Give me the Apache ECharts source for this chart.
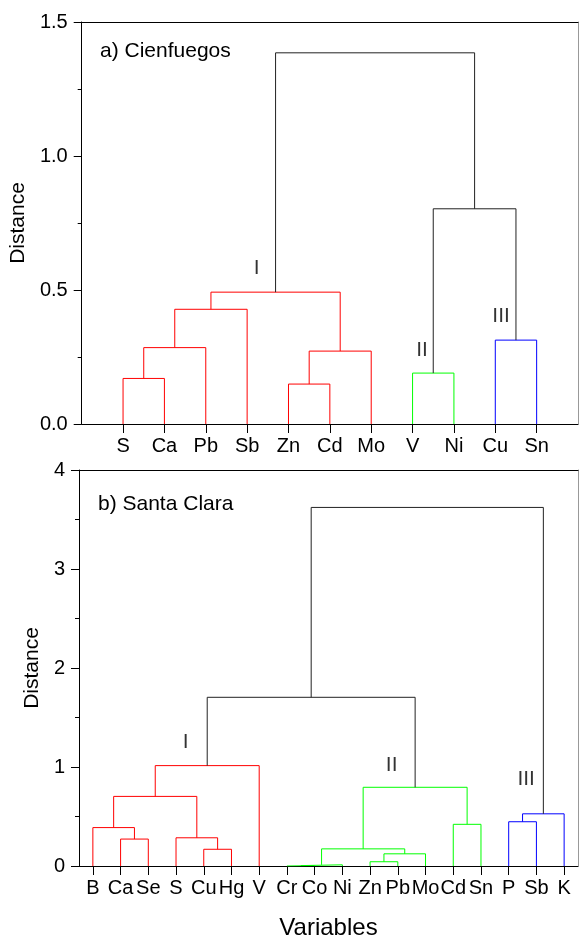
<!DOCTYPE html>
<html>
<head>
<meta charset="utf-8">
<script src="https://cdn.jsdelivr.net/npm/echarts@6/dist/echarts.min.js"></script>
<style>
  html, body { margin: 0; padding: 0; background: #fff; }
  #chart { width: 579px; height: 941px; }
</style>
</head>
<body>
<div id="chart"></div>
<script>
// a) Cienfuegos
const leavesA = ['S', 'Ca', 'Pb', 'Sb', 'Zn', 'Cd', 'Mo', 'V', 'Ni', 'Cu', 'Sn'];
// merge k joins node pair; ids >= leaves.length refer to earlier merges
const pairsA = [[0, 1], [11, 2], [12, 3], [4, 5], [14, 6], [13, 15], [7, 8], [9, 10], [17, 18], [16, 19]];
const heightsA = [0.17, 0.285, 0.428, 0.149, 0.272, 0.492, 0.19, 0.313, 0.803, 1.385];
const groupsA = ['I', 'I', 'I', 'I', 'I', 'I', 'II', 'III', 'top', 'top'];
const clusterLabelsA = [['I', 3.23, 0.583], ['II', 7.23, 0.274], ['III', 9.14, 0.403]];

// b) Santa Clara
const leavesB = ['B', 'Ca', 'Se', 'S', 'Cu', 'Hg', 'V', 'Cr', 'Co', 'Ni', 'Zn', 'Pb', 'Mo', 'Cd', 'Sn', 'P', 'Sb', 'K'];
const pairsB = [[1, 2], [0, 18], [4, 5], [3, 20], [19, 21], [22, 6], [7, 8], [24, 9], [10, 11], [26, 12],
  [25, 27], [13, 14], [28, 29], [23, 30], [15, 16], [32, 17], [31, 33]];
const heightsB = [0.272, 0.388, 0.169, 0.285, 0.703, 1.014, 0.004, 0.012, 0.043, 0.123,
  0.173, 0.421, 0.795, 1.704, 0.447, 0.527, 3.622];
const groupsB = ['I', 'I', 'I', 'I', 'I', 'I', 'II', 'II', 'II', 'II', 'II', 'II', 'II', 'top', 'III', 'III', 'top'];
const clusterLabelsB = [['I', 3.35, 1.247], ['II', 10.78, 1.014], ['III', 15.63, 0.872]];

const COLOURS = { I: '#ff0000', II: '#00ff00', III: '#0000ff', top: '#222222' };
const FONT = '"Liberation Sans", Arial, sans-serif';

function dendroSeries(leaves, pairs, heights, groups, axisIdx) {
  const xs = leaves.map((_, i) => i);
  const ys = leaves.map(() => 0);
  return pairs.map(([a, b], k) => {
    const h = heights[k];
    const data = [[xs[a], ys[a]], [xs[a], h], [xs[b], h], [xs[b], ys[b]]];
    xs.push((xs[a] + xs[b]) / 2);
    ys.push(h);
    return {
      type: 'line',
      xAxisIndex: axisIdx,
      yAxisIndex: axisIdx,
      data,
      symbol: 'none',
      silent: true,
      animation: false,
      lineStyle: { color: COLOURS[groups[k]], width: 1 }
    };
  });
}

function labelSeries(labels, axisIdx) {
  return {
    type: 'scatter',
    xAxisIndex: axisIdx,
    yAxisIndex: axisIdx,
    symbolSize: 0,
    silent: true,
    animation: false,
    data: labels.map(([name, x, y]) => ({ name, value: [x, y] })),
    label: {
      show: true,
      position: 'inside',
      formatter: (p) => p.name,
      color: '#000',
      fontSize: 21,
      fontFamily: FONT
    }
  };
}

function bottomAxis(leaves, gridIndex, min, max, nameText) {
  const idx = leaves.map((_, i) => i);
  return {
    type: 'value',
    gridIndex,
    min,
    max,
    position: 'bottom',
    splitLine: { show: false },
    axisLine: { onZero: false, lineStyle: { color: '#000', width: 1 } },
    axisTick: { customValues: idx, length: 9, lineStyle: { color: '#000' } },
    axisLabel: {
      customValues: idx,
      formatter: (v) => leaves[Math.round(v)],
      margin: 12,
      color: '#000',
      fontSize: 20,
      fontFamily: FONT
    },
    name: nameText,
    nameLocation: 'middle',
    nameGap: 50,
    nameTextStyle: { color: '#000', fontSize: 24, fontFamily: FONT }
  };
}

function frameX(gridIndex, min, max) {
  return {
    type: 'value', gridIndex, min, max, position: 'top',
    axisLine: { onZero: false, lineStyle: { color: '#000', width: 1 } },
    axisTick: { show: false }, axisLabel: { show: false }, splitLine: { show: false }
  };
}

function leftAxis(gridIndex, max, interval, digits, nameGap) {
  return {
    type: 'value',
    gridIndex,
    min: 0,
    max,
    interval,
    position: 'left',
    splitLine: { show: false },
    axisLine: { onZero: false, lineStyle: { color: '#000', width: 1 } },
    axisTick: { length: 8, lineStyle: { color: '#000' } },
    minorTick: { show: true, splitNumber: 2, length: 4, lineStyle: { color: '#000' } },
    axisLabel: {
      formatter: (v) => v.toFixed(digits),
      margin: 14,
      color: '#000',
      fontSize: 20,
      fontFamily: FONT
    },
    name: 'Distance',
    nameLocation: 'middle',
    nameGap,
    nameTextStyle: { color: '#000', fontSize: 21, fontFamily: FONT }
  };
}

function frameY(gridIndex, max) {
  return {
    type: 'value', gridIndex, min: 0, max, position: 'right',
    axisLine: { onZero: false, lineStyle: { color: '#999', width: 1 } },
    axisTick: { show: false }, axisLabel: { show: false }, splitLine: { show: false }
  };
}

const chart = echarts.init(document.getElementById('chart'), null, { renderer: 'canvas' });

chart.setOption({
  animation: false,
  backgroundColor: '#fff',
  textStyle: { fontFamily: FONT },
  title: [
    { text: 'a) Cienfuegos', left: 100, top: 41, padding: 0,
      textStyle: { fontSize: 21, fontWeight: 'normal', color: '#000', fontFamily: FONT } },
    { text: 'b) Santa Clara', left: 98, top: 494, padding: 0,
      textStyle: { fontSize: 21, fontWeight: 'normal', color: '#000', fontFamily: FONT } }
  ],
  grid: [
    { left: 79, top: 22, width: 499, height: 402 },
    { left: 79, top: 470, width: 499, height: 403 }
  ],
  xAxis: [
    bottomAxis(leavesA, 0, -1, 11, ''),
    bottomAxis(leavesB, 1, -0.5, 17.5, 'Variables'),
    frameX(0, -1, 11),
    frameX(1, -0.5, 17.5)
  ],
  yAxis: [
    leftAxis(0, 1.5, 0.5, 1, 49),
    leftAxis(1, 4, 1, 0, 31),
    frameY(0, 1.5),
    frameY(1, 4)
  ],
  series: [
    ...dendroSeries(leavesA, pairsA, heightsA, groupsA, 0),
    ...dendroSeries(leavesB, pairsB, heightsB, groupsB, 1),
    labelSeries(clusterLabelsA, 0),
    labelSeries(clusterLabelsB, 1)
  ]
});

window.addEventListener('resize', () => chart.resize());
</script>
</body>
</html>
